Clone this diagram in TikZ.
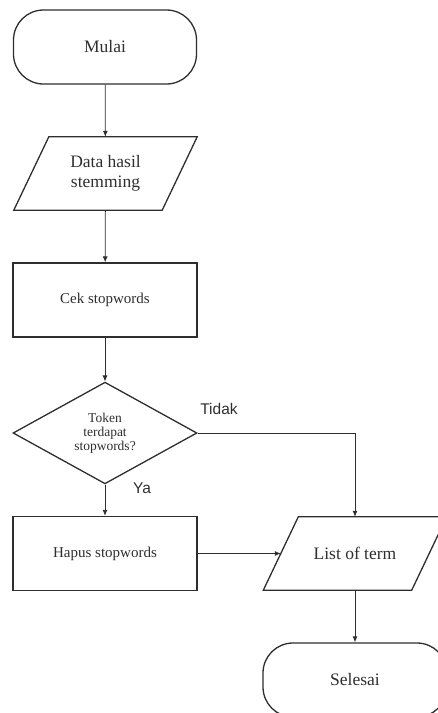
\documentclass[tikz,border=0pt]{standalone}
\usepackage{fontspec}
\setmainfont{Liberation Serif}
\newfontfamily\labelfont{Liberation Sans}
\usetikzlibrary{arrows.meta}
\definecolor{ink}{HTML}{2E2E2E}
\tikzset{
  outline/.style={draw=ink, line width=1.3pt, line join=miter},
  base/.style={outline, text=ink, inner sep=0pt, align=center},
  terminal/.style={base, rectangle, rounded corners=30pt, minimum width=183pt, minimum height=74pt, font=\fontsize{17.5}{20}\selectfont},
  process/.style={base, rectangle, minimum width=184pt, minimum height=74pt, font=\fontsize{15}{18}\selectfont},
  % data node: an undrawn box of the mid width; its slanted outline is drawn apart
  io/.style={rectangle, text=ink, inner sep=0pt, align=center, minimum width=148pt, minimum height=73pt, font=\fontsize{17.5}{20}\selectfont},
  decision/.style={base, diamond, minimum width=184pt, minimum height=90pt, font=\fontsize{13.5}{14}\selectfont},
  flow/.style={draw=ink, line width=0.8pt, -{Latex[length=6pt,width=5pt]}},
  branch/.style={text=ink, font=\labelfont\fontsize{15.5}{18}\selectfont}
}
\usetikzlibrary{shapes.geometric}
\newcommand{\slantbox}[1]{%
  \draw[outline] ([xshift=-17.5pt]#1.south west) -- ([xshift=-17.5pt]#1.south east)
    -- ([xshift=17.5pt]#1.north east) -- ([xshift=17.5pt]#1.north west) -- cycle;}
\begin{document}
\begin{tikzpicture}[x=1pt, y=-1pt]
  \useasboundingbox (0,0) rectangle (438,713);
  \node[terminal] (start) at (105,47) {Mulai};
  \node[io] (data) at (105.5,173.5) {Data hasil\\stemming};
  \slantbox{data}
  \node[process] (check) at (105,300) {Cek stopwords};
  \node[decision] (token) at (105,433) {Token\\terdapat\\stopwords?};
  \node[process] (remove) at (105,553.5) {Hapus stopwords};
  \node[io] (terms) at (355,553.5) {List of term};
  \slantbox{terms}
  \node[terminal, minimum width=184pt] (stop) at (355,680) {Selesai};

  \draw[flow] (start) -- (data);
  \draw[flow] (data) -- (check);
  \draw[flow] (check) -- (token);
  \draw[flow] (token) -- (remove);
  \draw[flow] (token.east) -| (terms);
  \draw[flow] (remove.east) -- (terms);
  \draw[flow] (terms) -- (stop);

  \node[branch] (no) at (219,409) {Tidak};
  \node[branch] (yes) at (142,488) {Ya};
\end{tikzpicture}
\end{document}
